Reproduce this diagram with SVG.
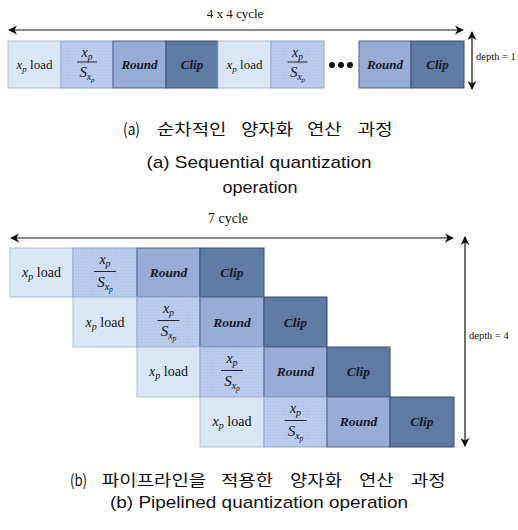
<svg xmlns="http://www.w3.org/2000/svg" width="518" height="530" viewBox="0 0 518 530">
<style>
.load{fill:#dbe7f7;stroke:#a9c0e0;stroke-width:1}
.frac{fill:url(#dots);stroke:#8ea9d2;stroke-width:1}
.round{fill:#97add3;stroke:#4d6486;stroke-width:1}
.clip{fill:#607ba2;stroke:#3a4f72;stroke-width:1}
.m{font-family:"Liberation Serif",serif;fill:#111;}
.i{font-style:italic}
.bi{font-family:"Liberation Serif",serif;font-style:italic;font-weight:bold;fill:#14182a}
.cap{font-family:"Liberation Sans","Noto Sans CJK KR",sans-serif;fill:#111}
.kr{font-family:"Noto Sans CJK KR",sans-serif;fill:#111;font-size:16px}
.lbl{font-family:"Liberation Serif",serif;fill:#111}
.ln{stroke:#111;stroke-width:1.2;fill:none}
</style>
<defs>
<pattern id="dots" width="3" height="3" patternUnits="userSpaceOnUse">
<rect width="3" height="3" fill="#bacded"/>
<rect width="1" height="1" fill="#a9bfe3"/>
</pattern>
<marker id="ah" viewBox="0 0 10 10" refX="9" refY="5" markerWidth="9" markerHeight="9" markerUnits="userSpaceOnUse" orient="auto-start-reverse">
<path d="M0,0 L10,5 L0,10 L3,5 Z" fill="#111"/>
</marker>
</defs>

<g id="connectors">
<line class="ln" x1="9" y1="30" x2="463" y2="30" marker-start="url(#ah)" marker-end="url(#ah)"/>
<line class="ln" x1="472" y1="32" x2="472" y2="89" marker-start="url(#ah)" marker-end="url(#ah)"/>
<line class="ln" x1="11" y1="238" x2="453" y2="238" marker-start="url(#ah)" marker-end="url(#ah)"/>
<line class="ln" x1="465" y1="237" x2="465" y2="446" marker-start="url(#ah)" marker-end="url(#ah)"/>
</g>

<g id="labels">
<text class="lbl" x="235" y="18" font-size="13" text-anchor="middle">4 x 4 cycle</text>
<text class="lbl" x="476" y="60" font-size="10.5">depth = 1</text>
<text class="lbl" x="228" y="223" font-size="14" text-anchor="middle">7 cycle</text>
<text class="lbl" x="469" y="339" font-size="10.5">depth = 4</text>
</g>

<!-- (a) sequential -->
<g id="a-load1"><rect class="load" x="8" y="41" width="53" height="47"/>
<text class="m" x="34.5" y="69" font-size="13" text-anchor="middle"><tspan class="i">x</tspan><tspan class="i" font-size="9" dy="3">p</tspan><tspan dy="-3"> load</tspan></text></g>
<g id="a-frac1"><rect class="frac" x="61" y="41" width="52" height="47"/>
<text class="m" x="87" y="57" font-size="14" text-anchor="middle"><tspan class="i">x</tspan><tspan class="i" font-size="9.5" dy="3">p</tspan></text>
<line x1="77" y1="62" x2="97" y2="62" stroke="#111" stroke-width="0.9"/>
<text class="m" x="87" y="77" font-size="15" text-anchor="middle"><tspan class="i">S</tspan><tspan class="i" font-size="9.5" dy="3">x</tspan><tspan class="i" font-size="7" dy="2">p</tspan></text></g>
<g id="a-round1"><rect class="round" x="113" y="41" width="53" height="47"/>
<text class="bi" x="139.5" y="69" font-size="13" text-anchor="middle">Round</text></g>
<g id="a-clip1"><rect class="clip" x="166" y="41" width="52" height="47"/>
<text class="bi" x="192" y="69" font-size="13" text-anchor="middle">Clip</text></g>
<g id="a-load2"><rect class="load" x="218" y="41" width="53" height="47"/>
<text class="m" x="244.5" y="69" font-size="13" text-anchor="middle"><tspan class="i">x</tspan><tspan class="i" font-size="9" dy="3">p</tspan><tspan dy="-3"> load</tspan></text></g>
<g id="a-frac2"><rect class="frac" x="271" y="41" width="53" height="47"/>
<text class="m" x="297.5" y="57" font-size="14" text-anchor="middle"><tspan class="i">x</tspan><tspan class="i" font-size="9.5" dy="3">p</tspan></text>
<line x1="287.5" y1="62" x2="307.5" y2="62" stroke="#111" stroke-width="0.9"/>
<text class="m" x="297.5" y="77" font-size="15" text-anchor="middle"><tspan class="i">S</tspan><tspan class="i" font-size="9.5" dy="3">x</tspan><tspan class="i" font-size="7" dy="2">p</tspan></text></g>
<g id="a-dots" fill="#111"><circle cx="332" cy="65" r="3"/><circle cx="341" cy="65" r="3"/><circle cx="350" cy="65" r="3"/></g>
<g id="a-round2"><rect class="round" x="359" y="41" width="52" height="47"/>
<text class="bi" x="385" y="69" font-size="13" text-anchor="middle">Round</text></g>
<g id="a-clip2"><rect class="clip" x="411" y="41" width="53" height="47"/>
<text class="bi" x="437.5" y="69" font-size="13" text-anchor="middle">Clip</text></g>

<g id="caption-a">
<text class="kr" x="123" y="135" textLength="17" lengthAdjust="spacingAndGlyphs">(a)</text>
<text class="kr" transform="translate(157,135) scale(1.18,1)" x="0" y="0">순차적인</text>
<text class="kr" transform="translate(241,135) scale(1.18,1)" x="0" y="0">양자화</text>
<text class="kr" transform="translate(307,135) scale(1.18,1)" x="0" y="0">연산</text>
<text class="kr" transform="translate(358,135) scale(1.18,1)" x="0" y="0">과정</text>
<text class="cap" x="259" y="168" font-size="17" text-anchor="middle" textLength="225" lengthAdjust="spacingAndGlyphs">(a) Sequential quantization</text>
<text class="cap" x="260" y="193" font-size="17" text-anchor="middle" textLength="75" lengthAdjust="spacingAndGlyphs">operation</text>
</g>

<!-- (b) pipelined -->
<g id="b-r1-load"><rect class="load" x="10" y="248" width="63" height="49"/>
<text class="m" x="41.5" y="277" font-size="14" text-anchor="middle"><tspan class="i">x</tspan><tspan class="i" font-size="10" dy="3">p</tspan><tspan dy="-3"> load</tspan></text></g>
<g id="b-r1-frac"><rect class="frac" x="73" y="248" width="64" height="49"/>
<text class="m" x="105" y="264" font-size="14" text-anchor="middle"><tspan class="i">x</tspan><tspan class="i" font-size="10" dy="3">p</tspan></text>
<line x1="94" y1="271.5" x2="116" y2="271.5" stroke="#111" stroke-width="0.9"/>
<text class="m" x="105" y="287" font-size="15" text-anchor="middle"><tspan class="i">S</tspan><tspan class="i" font-size="10" dy="3">x</tspan><tspan class="i" font-size="7.5" dy="2">p</tspan></text></g>
<g id="b-r1-round"><rect class="round" x="137" y="248" width="63" height="49"/>
<text class="bi" x="168.5" y="277" font-size="13.5" text-anchor="middle">Round</text></g>
<g id="b-r1-clip"><rect class="clip" x="200" y="248" width="64" height="49"/>
<text class="bi" x="232" y="277" font-size="13.5" text-anchor="middle">Clip</text></g>

<g id="b-r2-load"><rect class="load" x="73" y="297" width="64" height="50"/>
<text class="m" x="105" y="327" font-size="14" text-anchor="middle"><tspan class="i">x</tspan><tspan class="i" font-size="10" dy="3">p</tspan><tspan dy="-3"> load</tspan></text></g>
<g id="b-r2-frac"><rect class="frac" x="137" y="297" width="63" height="50"/>
<text class="m" x="168.5" y="313" font-size="14" text-anchor="middle"><tspan class="i">x</tspan><tspan class="i" font-size="10" dy="3">p</tspan></text>
<line x1="157.5" y1="320.5" x2="179.5" y2="320.5" stroke="#111" stroke-width="0.9"/>
<text class="m" x="168.5" y="336" font-size="15" text-anchor="middle"><tspan class="i">S</tspan><tspan class="i" font-size="10" dy="3">x</tspan><tspan class="i" font-size="7.5" dy="2">p</tspan></text></g>
<g id="b-r2-round"><rect class="round" x="200" y="297" width="64" height="50"/>
<text class="bi" x="232" y="327" font-size="13.5" text-anchor="middle">Round</text></g>
<g id="b-r2-clip"><rect class="clip" x="264" y="297" width="63" height="50"/>
<text class="bi" x="295.5" y="327" font-size="13.5" text-anchor="middle">Clip</text></g>

<g id="b-r3-load"><rect class="load" x="137" y="347" width="63" height="50"/>
<text class="m" x="168.5" y="376" font-size="14" text-anchor="middle"><tspan class="i">x</tspan><tspan class="i" font-size="10" dy="3">p</tspan><tspan dy="-3"> load</tspan></text></g>
<g id="b-r3-frac"><rect class="frac" x="200" y="347" width="64" height="50"/>
<text class="m" x="232" y="363" font-size="14" text-anchor="middle"><tspan class="i">x</tspan><tspan class="i" font-size="10" dy="3">p</tspan></text>
<line x1="221" y1="370.5" x2="243" y2="370.5" stroke="#111" stroke-width="0.9"/>
<text class="m" x="232" y="386" font-size="15" text-anchor="middle"><tspan class="i">S</tspan><tspan class="i" font-size="10" dy="3">x</tspan><tspan class="i" font-size="7.5" dy="2">p</tspan></text></g>
<g id="b-r3-round"><rect class="round" x="264" y="347" width="63" height="50"/>
<text class="bi" x="295.5" y="376" font-size="13.5" text-anchor="middle">Round</text></g>
<g id="b-r3-clip"><rect class="clip" x="327" y="347" width="63" height="50"/>
<text class="bi" x="358.5" y="376" font-size="13.5" text-anchor="middle">Clip</text></g>

<g id="b-r4-load"><rect class="load" x="200" y="397" width="64" height="50"/>
<text class="m" x="232" y="426" font-size="14" text-anchor="middle"><tspan class="i">x</tspan><tspan class="i" font-size="10" dy="3">p</tspan><tspan dy="-3"> load</tspan></text></g>
<g id="b-r4-frac"><rect class="frac" x="264" y="397" width="63" height="50"/>
<text class="m" x="295.5" y="413" font-size="14" text-anchor="middle"><tspan class="i">x</tspan><tspan class="i" font-size="10" dy="3">p</tspan></text>
<line x1="284.5" y1="420.5" x2="306.5" y2="420.5" stroke="#111" stroke-width="0.9"/>
<text class="m" x="295.5" y="436" font-size="15" text-anchor="middle"><tspan class="i">S</tspan><tspan class="i" font-size="10" dy="3">x</tspan><tspan class="i" font-size="7.5" dy="2">p</tspan></text></g>
<g id="b-r4-round"><rect class="round" x="327" y="397" width="63" height="50"/>
<text class="bi" x="358.5" y="426" font-size="13.5" text-anchor="middle">Round</text></g>
<g id="b-r4-clip"><rect class="clip" x="390" y="397" width="64" height="50"/>
<text class="bi" x="422" y="426" font-size="13.5" text-anchor="middle">Clip</text></g>

<g id="caption-b">
<text class="kr" x="70" y="486" textLength="17" lengthAdjust="spacingAndGlyphs">(b)</text>
<text class="kr" transform="translate(102,486) scale(1.18,1)" x="0" y="0">파이프라인을</text>
<text class="kr" transform="translate(221,486) scale(1.18,1)" x="0" y="0">적용한</text>
<text class="kr" transform="translate(290,486) scale(1.18,1)" x="0" y="0">양자화</text>
<text class="kr" transform="translate(359,486) scale(1.18,1)" x="0" y="0">연산</text>
<text class="kr" transform="translate(411,486) scale(1.18,1)" x="0" y="0">과정</text>
<text class="cap" x="259" y="508" font-size="17" text-anchor="middle" textLength="298" lengthAdjust="spacingAndGlyphs">(b) Pipelined quantization operation</text>
</g>
</svg>
